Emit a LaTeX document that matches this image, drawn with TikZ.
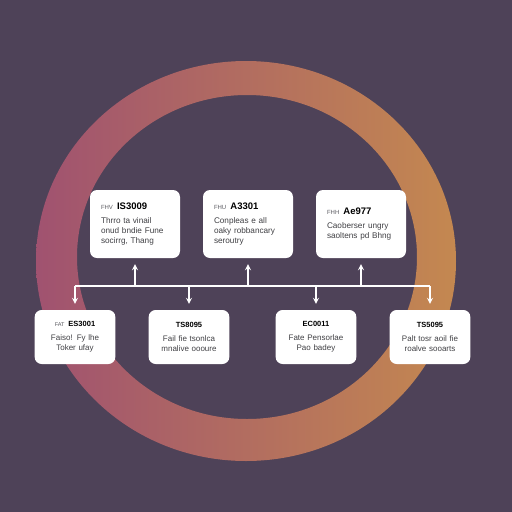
\documentclass[tikz,border=0pt]{standalone}
\usepackage{fontspec}
\setmainfont{Liberation Sans}
\usetikzlibrary{shapes.geometric, arrows}
\definecolor{bgPurple}{RGB}{78,66,88}
\definecolor{ringLeft}{RGB}{160,82,112}
\definecolor{ringRight}{RGB}{196,136,80}
\definecolor{bodyGrey}{RGB}{64,64,68}
\definecolor{tagGrey}{RGB}{90,90,96}
\tikzstyle{topcard} = [rectangle, rounded corners=7pt,
minimum width=90pt,
minimum height=68pt,
text width=68pt,
align=left,
font=\fontsize{8.2}{10}\selectfont,
text=bodyGrey,
fill=white]
\tikzstyle{lowcard} = [rectangle, rounded corners=7pt,
minimum width=80pt,
minimum height=54pt,
text width=74pt,
align=center,
font=\fontsize{8}{10}\selectfont,
text=bodyGrey,
fill=white]
\tikzstyle{wire} = [white, line width=1.6pt]
\tikzstyle{arrow} = [white, line width=1.6pt,->,>=stealth]
\newcommand\cardhead[2]{{\color{tagGrey}\fontsize{6}{7}\selectfont #1}\enspace{\color{black}\fontsize{9.5}{10}\selectfont\bfseries #2}}
\newcommand\lowhead[2]{{\color{tagGrey}\fontsize{5.5}{7}\selectfont #1}\enspace{\color{black}\fontsize{7.5}{10}\selectfont\bfseries #2}}
\newcommand\cardid[1]{{\color{black}\fontsize{7.5}{10}\selectfont\bfseries #1}}
\begin{document}
\begin{tikzpicture}[x=1pt, y=-1pt, node distance=113pt]
\fill[bgPurple] (0,0) rectangle (512,512);
\useasboundingbox (0,0) rectangle (512,512);

% ring
\shade[left color=ringLeft, right color=ringRight, even odd rule]
  (246,261) ellipse [x radius=210pt, y radius=200pt]
  (247,257) ellipse [x radius=170pt, y radius=162pt];

% upper row
\node (t1) [topcard] at (135,224) {\cardhead{FHV}{IS3009}\\[4pt]
Thrro ta vinail\\ onud bndie Fune\\ socirrg, Thang};
\node (t2) [topcard, right of=t1] {\cardhead{FHU}{A3301}\\[4pt]
Conpleas e all\\ oaky robbancary\\ seroutry};
\node (t3) [topcard, right of=t2] {\cardhead{FHH}{Ae977}\\[4pt]
Caoberser ungry\\ saoltens pd Bhng};

% lower row
\node (b1) [lowcard] at (75,337) {\lowhead{FAT}{ES3001}\\[4pt]
Faiso! Fy lhe\\ Toker ufay};
\node (b2) [lowcard, right of=b1, xshift=1pt] {\cardid{TS8095}\\[4pt]
Fail fie tsonlca\\ mnalive oooure};
\node (b3) [lowcard, right of=b2, xshift=14pt] {\cardid{EC0011}\\[4pt]
Fate Pensorlae\\ Pao badey};
\node (b4) [lowcard, right of=b3, xshift=1pt] {\cardid{TS5095}\\[4pt]
Palt tosr aoil fie\\ roalve sooarts};

% bus
\coordinate (bus) at (0,286);
\draw [wire] (b1 |- bus) -- (b4 |- bus);
\draw [arrow, shorten >=6pt] (t1 |- bus) -- (t1.south);
\draw [arrow, shorten >=6pt] (t2 |- bus) -- (t2.south);
\draw [arrow, shorten >=6pt] (t3 |- bus) -- (t3.south);
\draw [arrow, shorten >=6pt] (b1 |- bus) -- (b1.north);
\draw [arrow, shorten >=6pt] (b2 |- bus) -- (b2.north);
\draw [arrow, shorten >=6pt] (b3 |- bus) -- (b3.north);
\draw [arrow, shorten >=6pt] (b4 |- bus) -- (b4.north);
\end{tikzpicture}
\end{document}
